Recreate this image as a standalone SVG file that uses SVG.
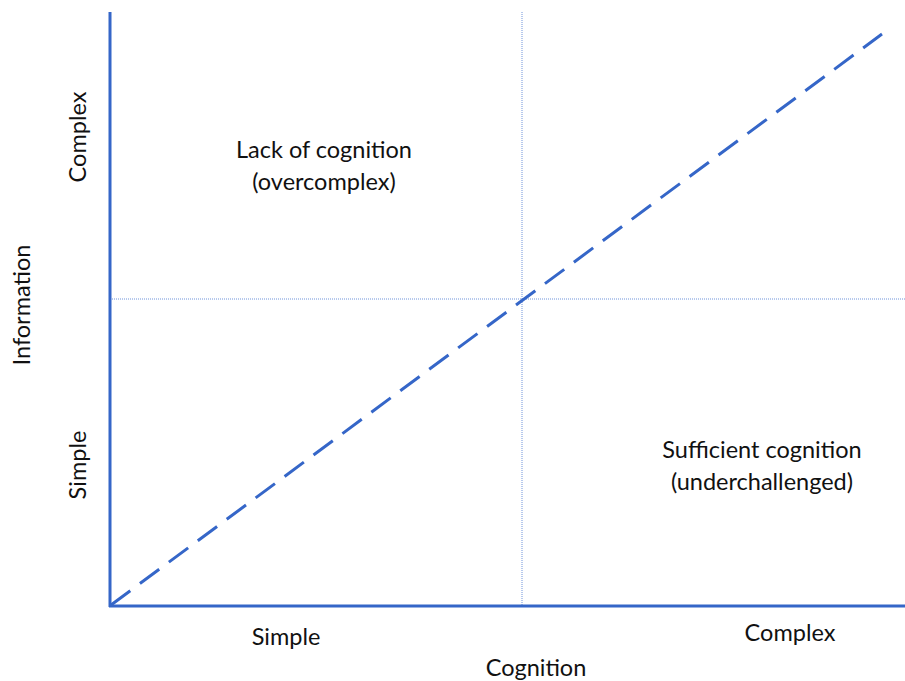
<svg xmlns="http://www.w3.org/2000/svg" width="905" height="681" viewBox="0 0 905 681">
  <style>
    .axis { stroke: #3566C8; stroke-width: 3; fill: none; }
    .grid { stroke: #6E93DA; stroke-width: 1; stroke-dasharray: 1 1; fill: none; }
    .diag { stroke: #3566C8; stroke-width: 3; stroke-dasharray: 24 12; fill: none; }
    text { font-family: Lato, "Liberation Sans", sans-serif; font-size: 23.5px; fill: #111; text-anchor: middle; }
  </style>
  <rect width="905" height="681" fill="#fff"/>
  <g id="connectors">
    <line class="grid" x1="522" y1="12" x2="522" y2="606"/>
    <line class="grid" x1="110" y1="299" x2="905" y2="299"/>
    <line class="diag" x1="111" y1="605" x2="882" y2="34"/>
    <line class="axis" x1="110" y1="12" x2="110" y2="607"/>
    <line class="axis" x1="109" y1="606" x2="905" y2="606"/>
  </g>
  <g id="quadrant-top-left">
    <text x="324" y="158">Lack of cognition</text>
    <text x="324" y="190">(overcomplex)</text>
  </g>
  <g id="quadrant-bottom-right">
    <text x="762" y="458">Sufficient cognition</text>
    <text x="762" y="490">(underchallenged)</text>
  </g>
  <g id="x-axis-labels">
    <text x="286" y="645">Simple</text>
    <text x="790" y="641">Complex</text>
    <text x="536" y="676">Cognition</text>
  </g>
  <g id="y-axis-labels">
    <text transform="translate(30 305) rotate(-90)">Information</text>
    <text transform="translate(86 137) rotate(-90)">Complex</text>
    <text transform="translate(86 465) rotate(-90)">Simple</text>
  </g>
</svg>
